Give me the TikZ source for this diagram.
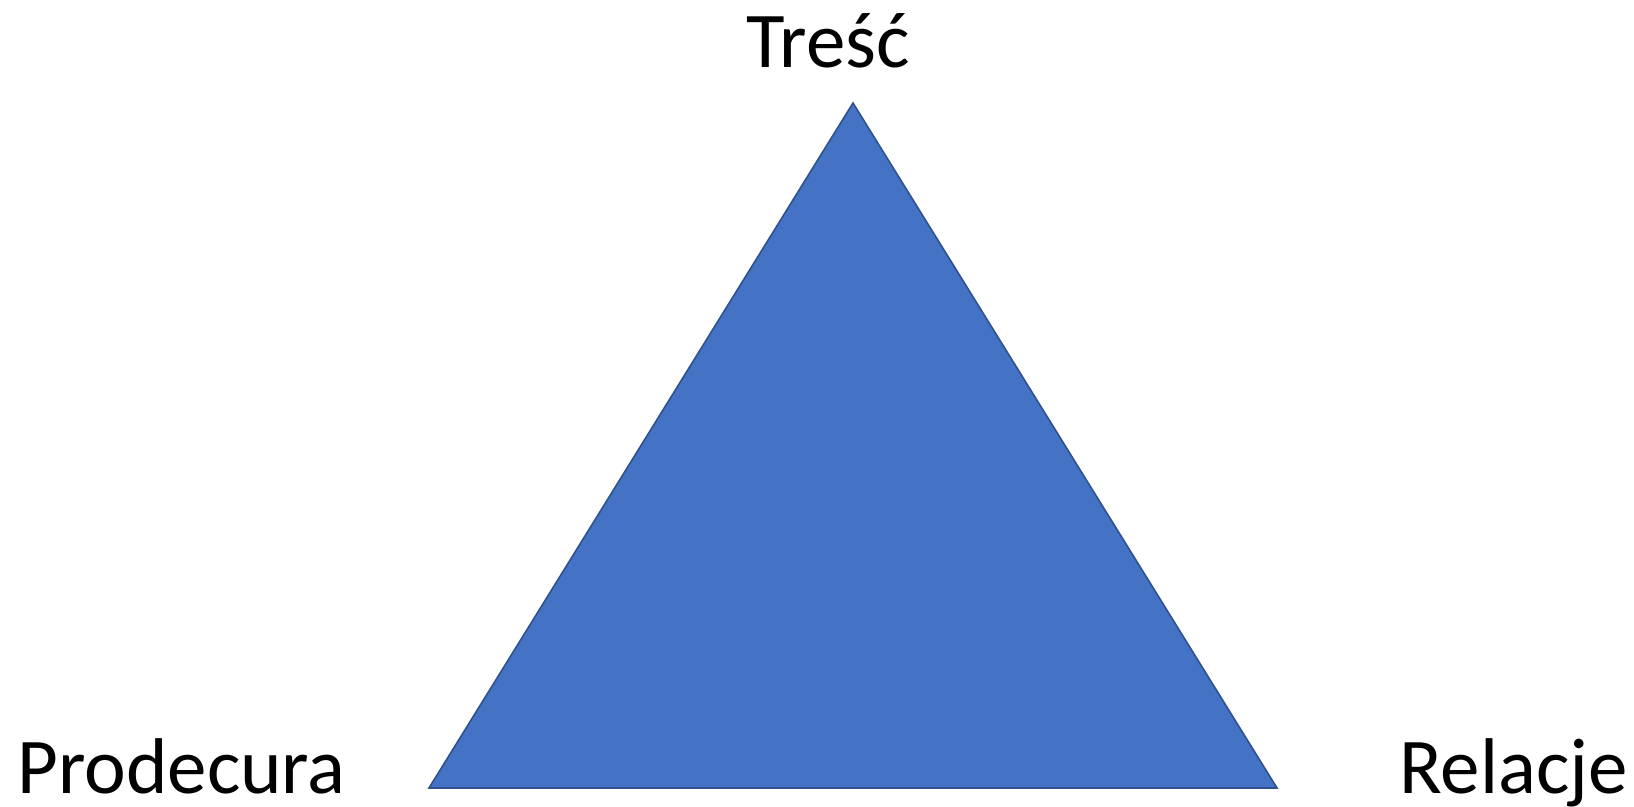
\documentclass[tikz,border=0pt]{standalone}
\usepackage{fontspec}
\setmainfont{Carlito}
\definecolor{triblue}{RGB}{68,114,196}
\definecolor{triedge}{RGB}{47,82,143}
\usetikzlibrary{positioning}

\begin{document}
\begin{tikzpicture}[x=0.5pt, y=-0.5pt,
    corner/.style={font=\fontsize{39.5}{47}\selectfont, inner sep=0pt}]
  \useasboundingbox (0,0) rectangle (1634,807);

  %% Triangle
  \coordinate (apex) at (853,103);
  \coordinate (left) at (429,788);
  \coordinate (right) at (1277,788);
  \draw[triedge, line width=0.8pt, fill=triblue, line join=miter] (apex) -- (left) -- (right) -- cycle;

  %% Labels
  \node[corner, anchor=base] (tresc) at (828,68) {Treść};
  \node[corner, anchor=base west] (procedura) at (17,793) {Prodecura};
  \node[corner, anchor=base east] (relacje) at (1628,793) {Relacje};
\end{tikzpicture}
\end{document}
